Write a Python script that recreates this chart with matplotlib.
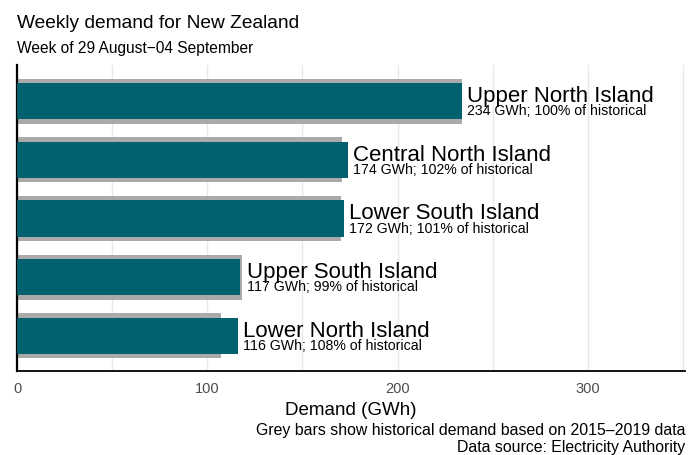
import matplotlib
matplotlib.use("Agg")
import matplotlib.pyplot as plt
from matplotlib.ticker import MultipleLocator

plt.rcParams['font.family'] = ['Liberation Sans', 'DejaVu Sans']

regions = ["Upper North Island", "Central North Island", "Lower South Island",
           "Upper South Island", "Lower North Island"]
demand = [234, 174, 172, 117, 116]
historical = [234.0, 170.6, 170.0, 118.2, 107.4]
pct_hist = [100, 102, 101, 99, 108]

teal = "#03616F"
grey = "#AAAAAA"

fig = plt.figure(figsize=(6.98, 4.56), dpi=100)
ax = fig.add_axes([17/698, 1-372/456, (685-17)/698, (372-66)/456])

n = len(regions)
ypos = [n - 1 - i for i in range(n)]

ax.barh(ypos, historical, height=0.766, color=grey, zorder=2)
ax.barh(ypos, demand, height=0.613, color=teal, zorder=3)

for y, name, d, h, p in zip(ypos, regions, demand, historical, pct_hist):
    x = max(d, h) + 2.5
    ax.annotate(name, xy=(x, y), xytext=(0, 0), textcoords="offset points",
                ha="left", va="baseline", fontsize=16, color="black", zorder=5)
    ax.annotate(f"{d} GWh; {p}% of historical", xy=(x, y), xytext=(0, -9.4),
                textcoords="offset points", ha="left", va="baseline",
                fontsize=10.2, color="black", zorder=5)

ax.set_xlim(0, 351)
ax.set_ylim(-0.596, 4.613)
ax.xaxis.set_major_locator(MultipleLocator(100))
ax.xaxis.set_minor_locator(MultipleLocator(50))
ax.grid(axis="x", which="both", color="#E8E8E8", linewidth=1.0, zorder=0)
ax.set_axisbelow(True)
ax.set_yticks([])
ax.tick_params(axis="x", which="both", length=0, labelsize=10.5,
               labelcolor="#4D4D4D", pad=7)
for s in ["top", "right"]:
    ax.spines[s].set_visible(False)
ax.spines["left"].set_linewidth(1.6)
ax.spines["bottom"].set_linewidth(1.3)
ax.spines["left"].set_color("black")
ax.spines["bottom"].set_color("black")

fig.text(17/698, 1-28/456, "Weekly demand for New Zealand", fontsize=13.8,
         ha="left", va="baseline")
fig.text(17/698, 1-53/456, "Week of 29 August\u221204 September", fontsize=11.2,
         ha="left", va="baseline")
fig.text(351/698, 1-415/456, "Demand (GWh)", fontsize=13.5, ha="center",
         va="baseline")
fig.text(685/698, 1-435/456,
         "Grey bars show historical demand based on 2015\u20132019 data",
         fontsize=11.4, ha="right", va="baseline")
fig.text(685/698, 1-452/456, "Data source: Electricity Authority",
         fontsize=11.4, ha="right", va="baseline")

fig.savefig("out.png", dpi=100)
